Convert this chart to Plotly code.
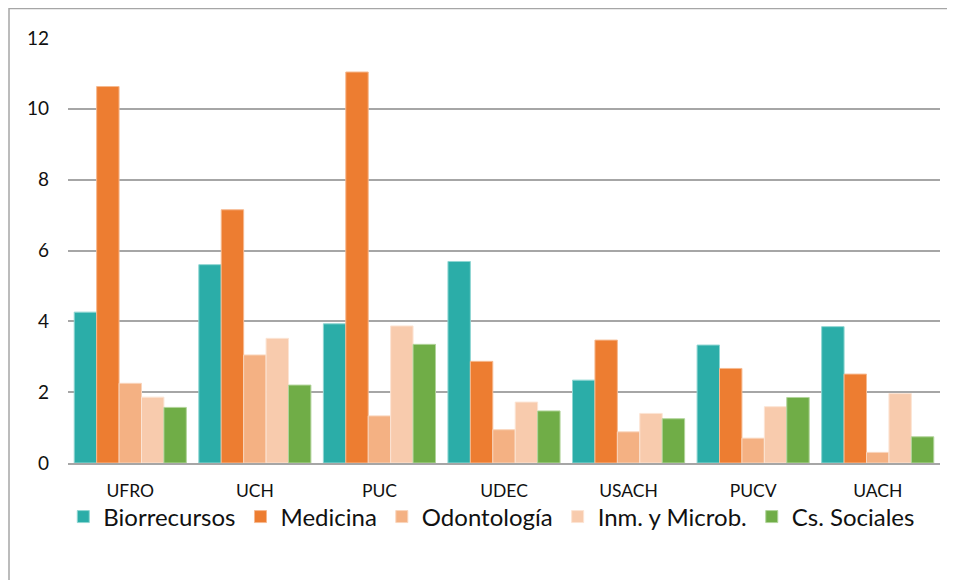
import plotly.graph_objects as go

categories = ["UFRO", "UCH", "PUC", "UDEC", "USACH", "PUCV", "UACH"]
biorrecursos = [4.26, 5.60, 3.93, 5.69, 2.34, 3.33, 3.85]
medicina = [10.63, 7.15, 11.04, 2.87, 3.47, 2.67, 2.51]
odontologia = [2.25, 3.05, 1.33, 0.94, 0.88, 0.70, 0.30]
inm_microb = [1.86, 3.52, 3.87, 1.72, 1.40, 1.59, 1.96]
cs_sociales = [1.57, 2.20, 3.35, 1.47, 1.25, 1.85, 0.74]

series = [
    ("Biorrecursos", biorrecursos, "#2BADA8", "#8FD6D2"),
    ("Medicina", medicina, "#ED7D31", "#F6B98F"),
    ("Odontología", odontologia, "#F4B183", "#F9D5BC"),
    ("Inm. y Microb.", inm_microb, "#F8CBAD", "#FCE4D4"),
    ("Cs. Sociales", cs_sociales, "#70AD47", "#B1D49A"),
]

fig = go.Figure()
for name, vals, col, lcol in series:
    fig.add_trace(go.Bar(
        name=name, x=categories, y=vals,
        marker=dict(color=col, line=dict(color=lcol, width=1)),
    ))

font_family = "Lato, Open Sans, sans-serif"
fig.update_layout(
    width=947, height=572,
    barmode="group", bargap=0.1, bargroupgap=0,
    paper_bgcolor="white", plot_bgcolor="white",
    margin=dict(l=60, r=15, t=30, b=117),
    font=dict(family=font_family, color="#111111", size=17),
    xaxis=dict(
        showgrid=False, showline=True, linecolor="#A6A6A6", linewidth=1.5,
        ticks="", tickfont=dict(size=17.5), ticklabelstandoff=11,
    ),
    yaxis=dict(
        range=[0, 12], dtick=2, showgrid=True, gridcolor="#A6A6A6", gridwidth=1.5,
        zeroline=False, showline=False, ticks="", tickfont=dict(size=19),
        ticklabelstandoff=18,
    ),
    legend=dict(
        orientation="h", x=0.486, xanchor="center", y=-0.127, yanchor="middle",
        font=dict(size=24), itemwidth=30, tracegroupgap=0,
        bgcolor="rgba(0,0,0,0)",
    ),
    showlegend=True,
    shapes=[dict(
        type="rect", xref="paper", yref="paper",
        x0=(1 - 60) / 872, x1=2, y0=-2, y1=(455 - 1) / 424.5,
        line=dict(color="#A6A6A6", width=1.5), fillcolor="rgba(0,0,0,0)",
        layer="below",
    )],
)

fig.write_html("out.html")
